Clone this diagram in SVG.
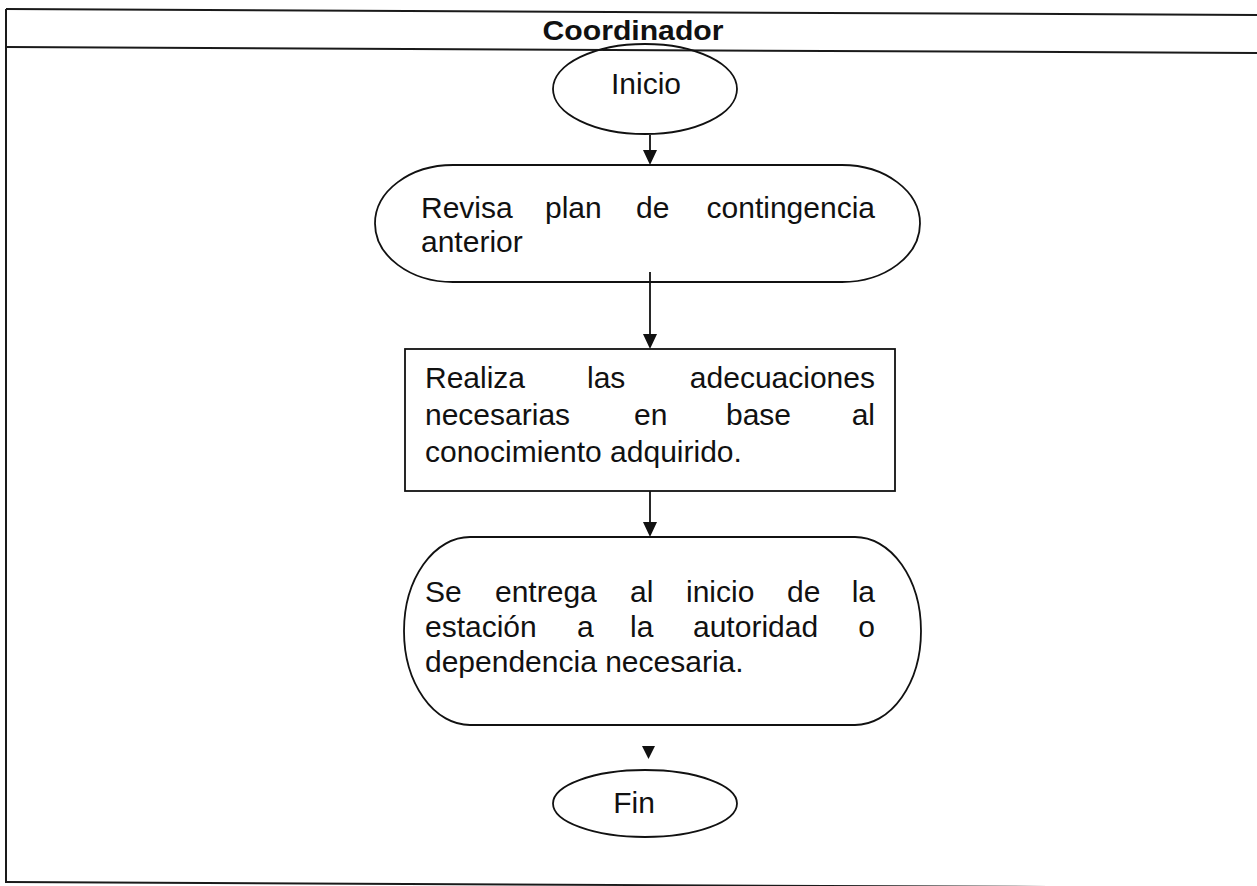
<svg xmlns="http://www.w3.org/2000/svg" width="1257" height="886" viewBox="0 0 1257 886">
<style>
.frame{stroke:#1a1a1a;stroke-width:2;fill:none}
.node{fill:none;stroke:#111;stroke-width:1.8}
.t{font-family:"Liberation Sans",Arial,sans-serif;font-size:30px;fill:#111}
.title{font-family:"Liberation Sans",Arial,sans-serif;font-size:28px;font-weight:bold;fill:#111}
.edge{stroke:#111;stroke-width:1.8;fill:none}
.head{fill:#111}
</style>
<rect width="1257" height="886" fill="#fff"/>
<g id="frame">
<line class="frame" x1="6" y1="9" x2="1257" y2="15"/>
<line class="frame" x1="6" y1="47" x2="1257" y2="53"/>
<line class="frame" x1="6" y1="9" x2="6" y2="883"/>
<line class="frame" x1="6" y1="882" x2="1257" y2="888"/>
<text class="title" x="633" y="40" text-anchor="middle" textLength="181" lengthAdjust="spacingAndGlyphs">Coordinador</text>
</g>
<g id="connectors">
<line class="edge" x1="650" y1="135" x2="650" y2="150"/>
<path class="head" d="M643,150 L657,150 L650,165 Z"/>
<line class="edge" x1="650" y1="272" x2="650" y2="334"/>
<path class="head" d="M643,334 L657,334 L650,349 Z"/>
<line class="edge" x1="650" y1="491" x2="650" y2="522"/>
<path class="head" d="M643,522 L657,522 L650,537 Z"/>
<path class="head" d="M642,746 L655,746 L648.5,759 Z"/>
</g>
<g id="inicio">
<ellipse class="node" cx="645" cy="89" rx="92" ry="45"/>
<text class="t" x="646" y="94" text-anchor="middle">Inicio</text>
</g>
<g id="revisa">
<path class="node" d="M453,165 H842 A78,58.5 0 0 1 842,282 H453 A78,58.5 0 0 1 453,165 Z"/>
<text class="t"><tspan x="421" y="218">Revisa</tspan><tspan x="545" y="218">plan</tspan><tspan x="636" y="218">de</tspan><tspan x="875" y="218" text-anchor="end">contingencia</tspan><tspan x="421" y="252">anterior</tspan></text>
</g>
<g id="realiza">
<rect class="node" x="405" y="349" width="490" height="142"/>
<text class="t"><tspan x="425" y="388">Realiza</tspan><tspan x="587" y="388">las</tspan><tspan x="875" y="388" text-anchor="end">adecuaciones</tspan><tspan x="425" y="425">necesarias</tspan><tspan x="634" y="425">en</tspan><tspan x="726" y="425">base</tspan><tspan x="875" y="425" text-anchor="end">al</tspan><tspan x="425" y="462">conocimiento adquirido.</tspan></text>
</g>
<g id="entrega">
<path class="node" d="M470,537 H855 A66,94 0 0 1 855,725 H470 A66,94 0 0 1 470,537 Z"/>
<text class="t"><tspan x="425" y="602">Se</tspan><tspan x="495" y="602">entrega</tspan><tspan x="630" y="602">al</tspan><tspan x="686" y="602">inicio</tspan><tspan x="787" y="602">de</tspan><tspan x="875" y="602" text-anchor="end">la</tspan><tspan x="425" y="637">estación</tspan><tspan x="577" y="637">a</tspan><tspan x="630" y="637">la</tspan><tspan x="693" y="637">autoridad</tspan><tspan x="875" y="637" text-anchor="end">o</tspan><tspan x="425" y="672">dependencia necesaria.</tspan></text>
</g>
<g id="fin">
<ellipse class="node" cx="645" cy="803.5" rx="92" ry="33.5"/>
<text class="t" x="634" y="813" text-anchor="middle">Fin</text>
</g>
</svg>
